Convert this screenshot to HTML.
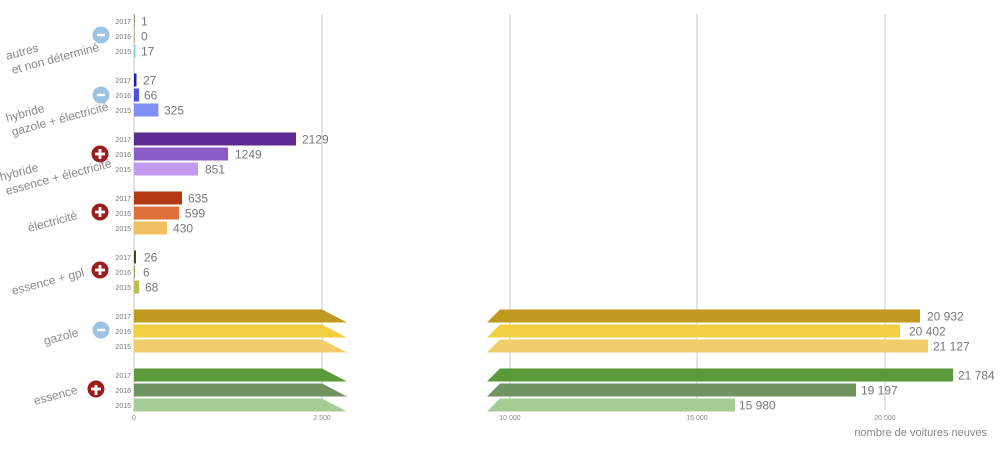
<!DOCTYPE html>
<html><head><meta charset="utf-8"><style>
html,body{margin:0;padding:0;background:#fff;}
svg{display:block;font-family:"Liberation Sans",sans-serif;}
.yr{font-size:7px;fill:#777;text-anchor:end;}
.v{font-size:12px;fill:#777;}
.lb{font-size:12px;fill:#8a8a8a;}
.tk{font-size:7px;fill:#888;text-anchor:middle;}
</style></head><body>
<svg width="1000" height="452" viewBox="0 0 1000 452">
<g stroke="#d0d0d0" stroke-width="1.2">
<line x1="134" y1="14" x2="134" y2="412"/>
<line x1="322" y1="14" x2="322" y2="410"/>
<line x1="510" y1="14" x2="510" y2="410"/>
<line x1="697" y1="14" x2="697" y2="410"/>
<line x1="885" y1="14" x2="885" y2="410"/>
</g>
<text class="tk" x="134" y="420">0</text>
<text class="tk" x="322" y="420">2 500</text>
<text class="tk" x="510" y="420">10 000</text>
<text class="tk" x="697" y="420">15 000</text>
<text class="tk" x="885" y="420">20 000</text>
<text x="987" y="436" font-size="11" fill="#888" text-anchor="end">nombre de voitures neuves</text>

<text class="yr" x="131" y="24">2017</text><text class="yr" x="131" y="39">2016</text><text class="yr" x="131" y="54">2015</text>
<rect x="134" y="14.5" width="1" height="13" fill="#b0a070"/>
<rect x="134" y="29.5" width="0.6" height="13" fill="#a09060"/>
<rect x="134" y="44.5" width="1.5" height="13" fill="#7fd8c8"/>
<text class="v" x="141" y="25.5">1</text><text class="v" x="141" y="40.5">0</text><text class="v" x="141" y="55.5">17</text>

<text class="yr" x="131" y="83">2017</text><text class="yr" x="131" y="98">2016</text><text class="yr" x="131" y="113">2015</text>
<rect x="134" y="73.5" width="2.5" height="13" fill="#2a1fa0"/>
<rect x="134" y="88.5" width="5" height="13" fill="#4e4ee8"/>
<rect x="134" y="103.5" width="24.4" height="13" fill="#7f8ff5"/>
<text class="v" x="143" y="84.5">27</text><text class="v" x="144" y="99.5">66</text><text class="v" x="164" y="114.5">325</text>

<text class="yr" x="131" y="142">2017</text><text class="yr" x="131" y="157">2016</text><text class="yr" x="131" y="172">2015</text>
<rect x="134" y="132.5" width="162" height="13" fill="#5c2a91"/>
<rect x="134" y="147.5" width="94" height="13" fill="#8b5cc8"/>
<rect x="134" y="162.5" width="64" height="13" fill="#c49af0"/>
<text class="v" x="302" y="143.5">2129</text><text class="v" x="235" y="158.5">1249</text><text class="v" x="205" y="173.5">851</text>

<text class="yr" x="131" y="201">2017</text><text class="yr" x="131" y="216">2016</text><text class="yr" x="131" y="231">2015</text>
<rect x="134" y="191.5" width="48" height="13" fill="#b33a10"/>
<rect x="134" y="206.5" width="45" height="13" fill="#e0703a"/>
<rect x="134" y="221.5" width="33" height="13" fill="#f0c060"/>
<text class="v" x="188" y="202.5">635</text><text class="v" x="185" y="217.5">599</text><text class="v" x="173" y="232.5">430</text>

<text class="yr" x="131" y="260">2017</text><text class="yr" x="131" y="275">2016</text><text class="yr" x="131" y="290">2015</text>
<rect x="134" y="250.5" width="2" height="13" fill="#5a3a10"/>
<rect x="134" y="265.5" width="0.8" height="13" fill="#9a7a30"/>
<rect x="134" y="280.5" width="5" height="13" fill="#b8c050"/>
<text class="v" x="144" y="261.5">26</text><text class="v" x="143" y="276.5">6</text><text class="v" x="145" y="291.5">68</text>

<text class="yr" x="131" y="319">2017</text><text class="yr" x="131" y="334">2016</text><text class="yr" x="131" y="349">2015</text>
<g fill="#bf9a1f"><polygon points="134,309.5 322,309.5 347,322.5 134,322.5"/><polygon points="500,309.5 920,309.5 920,322.5 487,322.5"/></g>
<g fill="#f0d040"><polygon points="134,324.5 322,324.5 347,337.5 134,337.5"/><polygon points="500,324.5 900,324.5 900,337.5 487,337.5"/></g>
<g fill="#f0cc6a"><polygon points="134,339.5 322,339.5 347,352.5 134,352.5"/><polygon points="500,339.5 928,339.5 928,352.5 487,352.5"/></g>
<text class="v" x="927" y="320.5">20 932</text><text class="v" x="909" y="335.5">20 402</text><text class="v" x="933" y="350.5">21 127</text>

<text class="yr" x="131" y="378">2017</text><text class="yr" x="131" y="393">2016</text><text class="yr" x="131" y="408">2015</text>
<g fill="#5a9a3a"><polygon points="134,368.5 322,368.5 347,381.5 134,381.5"/><polygon points="500,368.5 953,368.5 953,381.5 487,381.5"/></g>
<g fill="#6f9460"><polygon points="134,383.5 322,383.5 347,396.5 134,396.5"/><polygon points="500,383.5 856,383.5 856,396.5 487,396.5"/></g>
<g fill="#a6cc96"><polygon points="134,398.5 322,398.5 347,411.5 134,411.5"/><polygon points="500,398.5 735,398.5 735,411.5 487,411.5"/></g>
<text class="v" x="958" y="379.5">21 784</text><text class="v" x="861" y="394.5">19 197</text><text class="v" x="739" y="409.5">15 980</text>

<g>
<circle cx="101" cy="35" r="8.5" fill="#9cc3e0"/><rect x="97" y="33.8" width="8" height="2.4" fill="#fff"/>
<circle cx="101" cy="95" r="8.5" fill="#9cc3e0"/><rect x="97" y="93.8" width="8" height="2.4" fill="#fff"/>
<circle cx="100" cy="154" r="8.5" fill="#9b1c1c"/><rect x="95" y="152.6" width="10" height="2.8" fill="#fff"/><rect x="98.6" y="149" width="2.8" height="10" fill="#fff"/>
<circle cx="100" cy="212" r="8.5" fill="#9b1c1c"/><rect x="95" y="210.6" width="10" height="2.8" fill="#fff"/><rect x="98.6" y="207" width="2.8" height="10" fill="#fff"/>
<circle cx="100" cy="270" r="8.5" fill="#9b1c1c"/><rect x="95" y="268.6" width="10" height="2.8" fill="#fff"/><rect x="98.6" y="265" width="2.8" height="10" fill="#fff"/>
<circle cx="101" cy="330" r="8.5" fill="#9cc3e0"/><rect x="97" y="328.8" width="8" height="2.4" fill="#fff"/>
<circle cx="96" cy="389" r="8.5" fill="#9b1c1c"/><rect x="91" y="387.6" width="10" height="2.8" fill="#fff"/><rect x="94.6" y="385" width="2.8" height="10" fill="#fff"/>
</g>

<g class="lb">
<text transform="translate(7,60) rotate(-15)"><tspan x="0" y="0">autres</tspan><tspan x="2" y="15">et non déterminé</tspan></text>
<text transform="translate(7,122) rotate(-15)"><tspan x="0" y="0">hybride</tspan><tspan x="2" y="15">gazole + électricité</tspan></text>
<text transform="translate(1,181) rotate(-15)"><tspan x="0" y="0">hybride</tspan><tspan x="2" y="15">essence + électricité</tspan></text>
<text transform="translate(29,232) rotate(-15)">électricité</text>
<text transform="translate(13,295) rotate(-15)">essence + gpl</text>
<text transform="translate(45,345) rotate(-15)">gazole</text>
<text transform="translate(35,405) rotate(-15)">essence</text>
</g>
</svg>
</body></html>
